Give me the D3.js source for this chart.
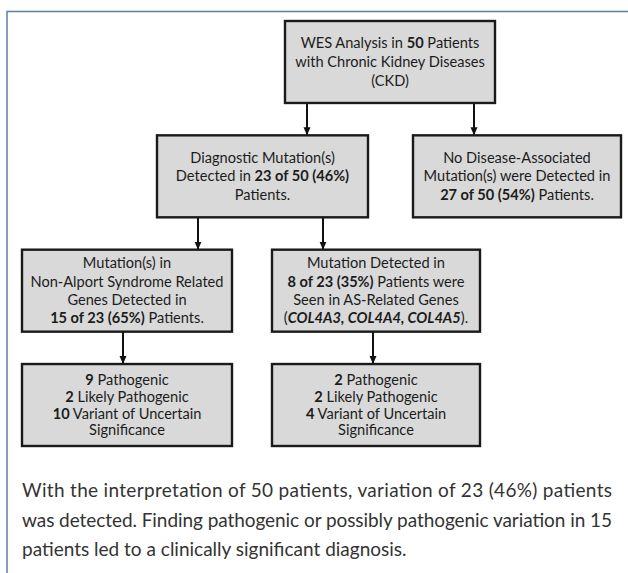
<!DOCTYPE html>
<html>
<head>
<meta charset="utf-8">
<script src="https://cdn.jsdelivr.net/npm/d3@7/dist/d3.min.js"></script>
<style>
  body { margin: 0; background: #fff; }
</style>
</head>
<body>
<script>
// flowchart of the WES results in 50 CKD patients

// box ids, text per line (**x** = bold, __x__ = bold italic) and row of each box
var boxIds = ["wes", "diag", "none", "nonAS", "as", "nonASres", "asres"];
var boxLines = [
  ["WES Analysis in **50** Patients", "with Chronic Kidney Diseases", "(CKD)"],
  ["Diagnostic Mutation(s)", "Detected in **23 of 50 (46%)**", "Patients."],
  ["No Disease-Associated", "Mutation(s) were Detected in", "**27 of 50 (54%)** Patients."],
  ["Mutation(s) in", "Non-Alport Syndrome Related", "Genes Detected in", "**15 of 23 (65%)** Patients."],
  ["Mutation Detected in", "**8 of 23 (35%)** Patients were", "Seen in AS-Related Genes", "(__COL4A3, COL4A4, COL4A5__)."],
  ["**9** Pathogenic", "**2** Likely Pathogenic", "**10** Variant of Uncertain", "Significance"],
  ["**2** Pathogenic", "**2** Likely Pathogenic", "**4** Variant of Uncertain", "Significance"]
];
var boxRow = [0, 1, 1, 2, 2, 3, 3];

// arrows between boxes
var linkSource = ["wes", "wes", "diag", "diag", "nonAS", "as"];
var linkTarget = ["diag", "none", "nonAS", "as", "nonASres", "asres"];

// caption under the chart
var captionLines = [
  "With the interpretation of 50 patients, variation of 23 (46%) patients",
  "was detected. Finding pathogenic or possibly pathogenic variation in 15",
  "patients led to a clinically significant diagnosis."
];

// layout (kept apart from the data): left / right edge of every box, x of every arrow
var boxLeft = [285, 157, 413, 22, 272, 22, 272];
var boxRight = [495, 368, 621, 232, 480, 232, 480];
var linkX = [307, 474, 198, 323, 123, 373];
var rowLineHeight = [19, 18.7, 18.3, 16.8];

var width = 628, height = 573;

var svg = d3.select("body").append("svg")
  .attr("width", width)
  .attr("height", height)
  .style("background", "#fff");

// rows of the flowchart
var y = d3.scaleBand()
  .domain([0, 1, 2, 3])
  .range([21, 446])
  .paddingInner(0.283);

// outer frame (only top and left edges are visible)
svg.append("path")
  .attr("d", "M7," + height + "V11.5H" + width)
  .attr("fill", "none")
  .attr("stroke", "#5d7fa6")
  .attr("stroke-width", 1.5);

// arrow head
svg.append("defs").append("marker")
  .attr("id", "head")
  .attr("markerUnits", "userSpaceOnUse")
  .attr("viewBox", "0 0 8 8")
  .attr("markerWidth", 8)
  .attr("markerHeight", 8)
  .attr("refX", 8)
  .attr("refY", 4)
  .attr("orient", "auto")
  .append("path")
  .attr("d", "M0,0.5L8,4L0,7.5Z")
  .attr("fill", "#111");

var idx = function (id) { return boxIds.indexOf(id); };

// arrows
svg.selectAll("line.link")
  .data(linkSource)
  .enter().append("line")
  .attr("class", "link")
  .attr("x1", function (d, i) { return linkX[i]; })
  .attr("x2", function (d, i) { return linkX[i]; })
  .attr("y1", function (d) { var r = boxRow[idx(d)]; return y(r) + y.bandwidth(); })
  .attr("y2", function (d, i) { var r = boxRow[idx(linkTarget[i])]; return y(r); })
  .attr("stroke", "#111")
  .attr("stroke-width", 2)
  .attr("marker-end", "url(#head)");

// boxes
var boxes = svg.selectAll("g.box")
  .data(boxIds)
  .enter().append("g")
  .attr("class", "box");

boxes.append("rect")
  .attr("x", function (d, i) { return boxLeft[i]; })
  .attr("y", function (d, i) { return y(boxRow[i]); })
  .attr("width", function (d, i) { return boxRight[i] - boxLeft[i]; })
  .attr("height", y.bandwidth())
  .attr("fill", "#d9d9d9")
  .attr("stroke", "#1a1a1a")
  .attr("stroke-width", 2.4);

// split a line into plain / bold / bold-italic pieces
function pieces(line) {
  var out = [];
  line.split(/(\*\*[^*]+\*\*|__[^_]+__)/).forEach(function (s) {
    if (!s) return;
    if (s.indexOf("**") === 0) out.push({ t: s.slice(2, -2), b: true, it: false });
    else if (s.indexOf("__") === 0) out.push({ t: s.slice(2, -2), b: true, it: true });
    else out.push({ t: s, b: false, it: false });
  });
  return out;
}

boxes.each(function (d, i) {
  var g = d3.select(this);
  var lines = boxLines[i];
  var lh = rowLineHeight[boxRow[i]];
  var cx = (boxLeft[i] + boxRight[i]) / 2;
  var cy = y(boxRow[i]) + y.bandwidth() / 2;
  var first = cy - (lines.length - 1) * lh / 2;
  lines.forEach(function (line, j) {
    var t = g.append("text")
      .attr("x", cx)
      .attr("y", first + j * lh)
      .attr("dy", "0.35em")
      .attr("text-anchor", "middle")
      .style("font-family", "Lato, 'Open Sans', sans-serif")
      .style("font-size", "14.6px")
      .attr("fill", "#1c1c1c");
    pieces(line).forEach(function (p) {
      t.append("tspan")
        .style("font-weight", p.b ? "bold" : "normal")
        .style("font-style", p.it ? "italic" : "normal")
        .text(p.t);
    });
  });
});

// caption, first two lines justified
svg.selectAll("text.caption")
  .data(captionLines)
  .enter().append("text")
  .attr("class", "caption")
  .attr("x", 22)
  .attr("y", function (d, i) { return 497 + i * 29.5; })
  .attr("textLength", function (d, i) { return i < 2 ? 590 : null; })
  .attr("lengthAdjust", "spacing")
  .style("font-family", "Lato, sans-serif")
  .style("font-weight", 400)
  .style("font-size", "19px")
  .attr("fill", "#333")
  .text(function (d) { return d; });
</script>
</body>
</html>
